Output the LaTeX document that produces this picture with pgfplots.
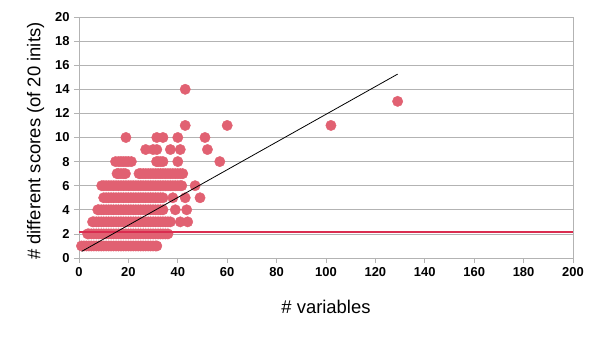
\documentclass[border=0pt]{standalone}
\usepackage{pgfplots}
\pgfplotsset{compat=1.18}
\usepackage{pgfplotstable}
\usepackage{fontspec}
\setmainfont{Liberation Sans}
\definecolor{ptcol}{RGB}{225,97,114}
\definecolor{redline}{RGB}{218,45,80}
\definecolor{gridgray}{RGB}{179,179,179}
\pgfplotstableread{
x y
1 1
2 1
3 1
4 1
5 1
6 1
7 1
8 1
9 1
10 1
11 1
12 1
13 1
14 1
15 1
16 1
17 1
18 1
19 1
20 1
21 1
22 1
23 1
24 1
25 1
26 1
27 1
28 1
29 1
30 1
31 1
31.5 1
3.5 2
4 2
5 2
6 2
7 2
8 2
9 2
10 2
11 2
12 2
13 2
14 2
15 2
16 2
17 2
18 2
19 2
20 2
21 2
22 2
23 2
24 2
25 2
26 2
27 2
28 2
29 2
30 2
31 2
32 2
33 2
34 2
35 2
36 2
5.5 3
6 3
7 3
8 3
9 3
10 3
11 3
12 3
13 3
14 3
15 3
16 3
17 3
18 3
19 3
20 3
21 3
22 3
23 3
24 3
25 3
26 3
27 3
28 3
29 3
30 3
31 3
32 3
33 3
34 3
35 3
36 3
37 3
41 3
44 3
7.6 4
8 4
9 4
10 4
11 4
12 4
13 4
14 4
15 4
16 4
17 4
18 4
19 4
20 4
21 4
22 4
23 4
24 4
25 4
26 4
27 4
28 4
29 4
30 4
31 4
32 4
33 4
34 4
39 4
43.6 4
10 5
11 5
12 5
13 5
14 5
15 5
16 5
17 5
18 5
19 5
20 5
21 5
22 5
23 5
24 5
25 5
26 5
27 5
28 5
29 5
30 5
31 5
32 5
33 5
34 5
38 5
43 5
49 5
9.2 6
10 6
11 6
12 6
13 6
14 6
15 6
16 6
17 6
18 6
19 6
20 6
21 6
22 6
23 6
24 6
25 6
26 6
27 6
28 6
29 6
30 6
31 6
32 6
33 6
34 6
35 6
36 6
37 6
38 6
39 6
40 6
41 6
41.6 6
47 6
15.4 7
16 7
17 7
18 7
18.8 7
24.3 7
25 7
26 7
27 7
28 7
29 7
30 7
31 7
32 7
33 7
34 7
35 7
36 7
37 7
38 7
39 7
40 7
41 7
42 7
14.8 8
16 8
17 8
18 8
19 8
20 8
21.2 8
31.4 8
32 8
33 8
34 8
40 8
57 8
27 9
30 9
31.5 9
37 9
41 9
52 9
19 10
31.5 10
34 10
40 10
51 10
43 11
60 11
102 11
129 13
43 14
}\scatterdata
\begin{document}
\begin{tikzpicture}
\begin{axis}[
  scale only axis,
  width=494bp, height=241bp,
  xmin=0, xmax=200, ymin=0, ymax=20,
  xtick={0,20,...,200}, ytick={0,2,...,20},
  axis line style={gridgray, line width=0.8bp},
  ymajorgrids,
  major grid style={gridgray, line width=0.8bp},
  tick align=outside,
  xtick pos=bottom, ytick pos=left,
  major tick length=5bp,
  major tick style={gridgray, line width=0.8bp},
  /pgf/number format/assume math mode=true,
  tick label style={font=\fontsize{13}{15}\selectfont\bfseries, text=black},
  xticklabel style={yshift=-1bp},
  yticklabel style={xshift=-1bp},
  xlabel={\# variables},
  ylabel={\# different scores (of 20 inits)},
  every axis x label/.style={at={(axis description cs:0.5,0)}, yshift=-49bp, anchor=center, font=\fontsize{18.5}{21}\selectfont},
  every axis y label/.style={at={(axis description cs:0,0.485)}, xshift=-43.5bp, rotate=90, anchor=center, font=\fontsize{18.5}{21}\selectfont},
  clip mode=individual,
]
\addplot[only marks, color=ptcol, mark=*, mark size=5.2bp, mark options={fill=ptcol, draw=none}] table[x=x, y=y] {\scatterdata};
\addplot[redline, line width=1.8bp] coordinates {(0,2.13) (200,2.13)};
\addplot[black, line width=0.8bp] coordinates {(1.1,0.55) (129,15.26)};
\end{axis}
\path (-79bp,-82bp) rectangle (526bp,258bp);
\end{tikzpicture}
\end{document}
